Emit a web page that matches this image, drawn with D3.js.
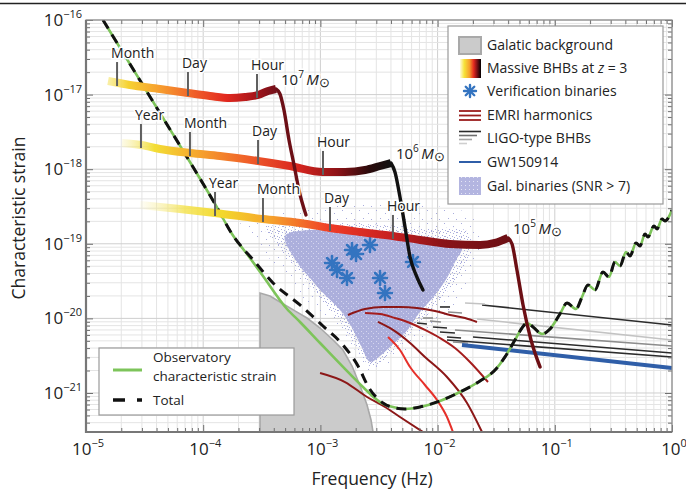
<!DOCTYPE html>
<html>
<head>
<meta charset="utf-8">
<script src="https://cdn.jsdelivr.net/npm/d3@7"></script>
<style>
  body { margin: 0; background: #fff; }
  svg { display: block; font-family: "Open Sans", sans-serif; }
</style>
</head>
<body>
<div id="chart"></div>
<script>
// all values are log10(frequency / Hz) and log10(characteristic strain)

// observatory characteristic strain
var noiseLogF = [-4.855,-4.625,-4.369,-4.113,-3.899,-3.754,-3.601,-3.490,-3.285,-3.174,-3.003,-2.807,-2.637,-2.491,-2.381,-2.278,-2.150,-1.980,-1.809,-1.638,-1.510,-1.425,-1.340,-1.280,-1.237,-1.186,-1.109,-1.041,-0.956,-0.896,-0.819,-0.768,-0.717,-0.657,-0.589,-0.538,-0.486,-0.444,-0.392,-0.358,-0.307,-0.273,-0.230,-0.205,-0.154,-0.128,-0.085,-0.060,0];
var noiseLogH = [-16.000,-16.590,-17.247,-17.903,-18.466,-18.869,-19.190,-19.432,-19.874,-20.048,-20.330,-20.651,-20.920,-21.121,-21.188,-21.214,-21.188,-21.107,-20.987,-20.839,-20.692,-20.517,-20.290,-20.129,-20.062,-20.115,-20.209,-20.142,-19.941,-19.794,-19.874,-19.713,-19.552,-19.619,-19.378,-19.445,-19.244,-19.298,-19.110,-19.164,-18.989,-19.029,-18.869,-18.909,-18.761,-18.801,-18.668,-18.694,-18.547];

// where the total (with galactic confusion) sits above the instrument curve
var totalBumpLogF = [-3.558,-3.404,-3.174,-2.978,-2.807,-2.679,-2.585,-2.466,-2.364];
var totalBumpLogH = [-19.244,-19.525,-19.820,-20.102,-20.357,-20.638,-20.933,-21.134,-21.201];

// galactic background
var galBgLogF = [-3.515,-3.430,-3.345,-3.217,-3.114,-3.003,-2.892,-2.807,-2.730,-2.654,-2.602,-2.568,-2.551];
var galBgLogH = [-19.660,-19.700,-19.780,-19.900,-19.995,-20.129,-20.290,-20.424,-20.638,-20.933,-21.161,-21.362,-21.523];

// resolved galactic binaries (SNR > 7): outlines of the dense core, the mid band and the sparse halo
var cloudCoreLogF = [-3.302,-3.200,-3.089,-2.986,-2.833,-2.730,-2.645,-2.577,-2.491,-2.389,-2.278,-2.150,-2.022,-1.920,-1.843,-1.792,-1.980,-2.235,-2.491,-2.833,-3.089];
var cloudCoreLogH = [-18.895,-19.244,-19.458,-19.646,-19.887,-20.129,-20.397,-20.584,-20.504,-20.357,-20.196,-19.914,-19.686,-19.458,-19.217,-19.056,-18.989,-18.922,-18.869,-18.828,-18.815];
var cloudMidLogF = [-3.473,-3.174,-2.662,-2.150,-1.741,-1.724,-1.809,-1.980,-2.193,-2.389,-2.560,-2.679,-2.833,-3.020,-3.217,-3.387];
var cloudMidLogH = [-18.788,-18.761,-18.735,-18.788,-18.842,-19.150,-19.418,-19.753,-20.129,-20.450,-20.651,-20.424,-20.048,-19.700,-19.298,-18.976];
var cloudHaloLogF = [-3.686,-3.259,-2.747,-2.150,-1.724,-1.638,-1.707,-1.852,-2.108,-2.364,-2.560,-2.705,-2.875,-3.131,-3.387,-3.601];
var cloudHaloLogH = [-18.681,-18.574,-18.480,-18.480,-18.614,-18.949,-19.418,-19.820,-20.223,-20.558,-20.718,-20.424,-20.088,-19.753,-19.284,-18.882];

// massive BHB tracks at z = 3 (inspiral part, then merger/ringdown drop)
var bhbMasses = [5, 6, 7];
var bhb7LogF = [-4.812,-4.625,-4.369,-4.130,-3.942,-3.771,-3.643,-3.532,-3.447,-3.379];
var bhb7LogH = [-16.818,-16.871,-16.925,-16.979,-17.019,-17.046,-17.032,-17.005,-16.952,-16.925];
var bhb7DropLogF = [-3.379,-3.345,-3.311,-3.268,-3.225,-3.183,-3.123];
var bhb7DropLogH = [-16.925,-16.992,-17.206,-17.609,-17.944,-18.279,-18.614];
var bhb6LogF = [-4.693,-4.531,-4.369,-4.113,-3.857,-3.532,-3.259,-2.978,-2.790,-2.619,-2.491,-2.398];
var bhb6LogH = [-17.649,-17.676,-17.729,-17.783,-17.823,-17.890,-17.957,-18.037,-18.037,-18.011,-17.957,-17.917];
var bhb6DropLogF = [-2.398,-2.364,-2.321,-2.278,-2.235,-2.184,-2.125];
var bhb6DropLogH = [-17.917,-18.037,-18.373,-18.775,-19.177,-19.418,-19.619];
var bhb5LogF = [-4.539,-4.198,-3.899,-3.490,-3.174,-2.918,-2.662,-2.381,-2.150,-1.894,-1.638,-1.510,-1.442,-1.399];
var bhb5LogH = [-18.480,-18.534,-18.587,-18.668,-18.721,-18.788,-18.842,-18.895,-18.949,-19.003,-19.016,-18.989,-18.949,-18.922];
var bhb5DropLogF = [-1.399,-1.365,-1.323,-1.271,-1.203,-1.126];
var bhb5DropLogH = [-18.922,-19.003,-19.351,-19.820,-20.290,-20.651];

// time-to-merger marks on the tracks
var tick7Labels = ["Month","Day","Hour"];
var tick7LogF = [-4.735,-4.130,-3.541];
var tick7LogH = [-16.845,-16.979,-17.005];
var tick6Labels = ["Year","Month","Day","Hour"];
var tick6LogF = [-4.531,-4.113,-3.532,-2.978];
var tick6LogH = [-17.676,-17.783,-17.890,-18.037];
var tick5Labels = ["Year","Month","Day","Hour"];
var tick5LogF = [-3.899,-3.490,-2.918,-2.381];
var tick5LogH = [-18.587,-18.668,-18.788,-18.895];

// verification binaries
var verifLogF = [-2.730,-2.696,-2.577,-2.901,-2.858,-2.773,-2.491,-2.449,-2.210];
var verifLogH = [-19.083,-19.137,-19.016,-19.257,-19.351,-19.458,-19.458,-19.660,-19.244];

// EMRI harmonics
var emriLogF = [
  [-2.765,-2.619,-2.466,-2.321,-2.176,-2.022,-1.894,-1.766,-1.664],
  [-2.619,-2.491,-2.364,-2.235,-2.108,-1.980,-1.852,-1.724,-1.570],
  [-2.509,-2.381,-2.235,-2.108,-1.920,-1.749,-1.621],
  [-2.423,-2.321,-2.235,-2.108,-2.005,-1.920,-1.869],
  [-3.003,-2.790,-2.602,-2.449,-2.321,-2.125]
];
var emriLogH = [
  [-19.954,-19.874,-19.847,-19.847,-19.860,-19.901,-19.954,-19.995,-20.048],
  [-19.928,-19.941,-19.995,-20.062,-20.155,-20.263,-20.397,-20.584,-20.853],
  [-20.048,-20.155,-20.330,-20.517,-20.786,-21.134,-21.523],
  [-20.249,-20.424,-20.651,-20.893,-21.094,-21.322,-21.523],
  [-20.732,-20.853,-21.054,-21.188,-21.322,-21.523]
];
var emriTone = ["dark","mid","dark","bright","dark"];

// LIGO-type BHBs: start and end of each line
var ligoF0 = [-1.621,-1.664,-1.852,-1.698,-1.920,-1.980,-2.176,-2.065,-2.039,-1.980,-1.920,-1.869,-2.125,-1.766,-1.911];
var ligoF1 = [0,0,0,0,0,-1.894,-2.091,-1.971,-1.920,-1.852,-1.800,-1.741,-2.039,-1.596,-1.792];
var ligoH0 = [-19.820,-20.008,-20.155,-20.249,-20.290,-19.847,-20.062,-20.035,-20.115,-20.182,-20.249,-20.316,-19.995,-19.794,-19.914];
var ligoH1 = [-20.088,-20.290,-20.370,-20.464,-20.517,-19.847,-20.075,-20.048,-20.129,-20.196,-20.263,-20.330,-19.995,-19.807,-19.928];
var ligoTone = ["dark","light","mid","dark","dark","dark","dark","mid","dark","dark","dark","mid","mid","light","mid"];

// GW150914
var gwLogF = [-1.792, 0];
var gwLogH = [-20.357, -20.665];

var xDecades = [-5,-4,-3,-2,-1,0];
var yDecades = [-21,-20,-19,-18,-17,-16];

// ---------------------------------------------------------------
var W = 686, H = 490;
var plot = {left: 86, right: 672, top: 20, bottom: 432};
var yMinLog = -21.523;

var svg = d3.select("#chart").append("svg").attr("width", W).attr("height", H);

var x = d3.scaleLog().domain([1e-5, 1]).range([plot.left, plot.right]);
var y = d3.scaleLog().domain([Math.pow(10, yMinLog), 1e-16]).range([plot.bottom, plot.top]);
var px = function(lf) { return x(Math.pow(10, lf)); };
var py = function(lh) { return y(Math.pow(10, lh)); };
var zip = function(fs, hs) { return fs.map(function(f, i) { return [f, hs[i]]; }); };

var line = d3.line().x(d => px(d[0])).y(d => py(d[1])).curve(d3.curveMonotoneX);
var closedLine = d3.line().x(d => px(d[0])).y(d => py(d[1])).curve(d3.curveCatmullRomClosed);

var defs = svg.append("defs");
defs.append("clipPath").attr("id", "plotClip").append("rect")
  .attr("x", plot.left).attr("y", plot.top)
  .attr("width", plot.right - plot.left).attr("height", plot.bottom - plot.top);

// dot patterns for the binaries cloud
function dotPattern(id, w, h, dots, color, bg) {
  var p = defs.append("pattern").attr("id", id).attr("patternUnits", "userSpaceOnUse")
    .attr("width", w).attr("height", h);
  if (bg) p.append("rect").attr("width", w).attr("height", h).attr("fill", bg);
  dots.forEach(function(d) {
    p.append("rect").attr("x", d[0]).attr("y", d[1]).attr("width", 1).attr("height", 1).attr("fill", color);
  });
}
dotPattern("haloDots", 17, 13, [[2,2],[11,5],[6,10],[14,11]], "#a9acdc");
dotPattern("midDots", 7, 6, [[1,1],[4,2],[2,4],[5,5],[6,3]], "#aaaddc");
dotPattern("coreDots", 5, 5, [[1,1],[3,3]], "#d4d5ee", "#acafdc");
dotPattern("legDots", 4, 4, [[1,1]], "#e4e5f5", "#b3b5e0");

// ---- grid
var gx = [], gy = [];
xDecades.forEach(function(d) { for (var k = 1; k < 10; k++) { if (d < 0 || k == 1) gx.push([k * Math.pow(10, d), k == 1]); } });
[-22].concat(yDecades).forEach(function(d) { for (var k = 1; k < 10; k++) {
  var v = k * Math.pow(10, d);
  if (Math.log10(v) > yMinLog + 0.01 && (d < -16 || k == 1)) gy.push([v, k == 1]);
} });

var grid = svg.append("g");
grid.selectAll(".gx").data(gx).enter().append("line")
  .attr("x1", d => x(d[0])).attr("x2", d => x(d[0]))
  .attr("y1", plot.top).attr("y2", plot.bottom)
  .attr("stroke", d => d[1] ? "#cfcfcf" : "#e4e4e4").attr("stroke-width", 1);
grid.selectAll(".gy").data(gy).enter().append("line")
  .attr("y1", d => y(d[0])).attr("y2", d => y(d[0]))
  .attr("x1", plot.left).attr("x2", plot.right)
  .attr("stroke", d => d[1] ? "#cfcfcf" : "#e4e4e4").attr("stroke-width", 1);

var g = svg.append("g").attr("clip-path", "url(#plotClip)");

// ---- galactic background
var galPts = [[galBgLogF[0], yMinLog]].concat(zip(galBgLogF, galBgLogH));
g.append("path")
  .attr("d", d3.area().x(d => px(d[0])).y0(plot.bottom).y1(d => py(d[1]))(zip(galBgLogF, galBgLogH)))
  .attr("fill", "#cbcbcb");
g.append("path").attr("d", d3.line().x(d => px(d[0])).y(d => py(d[1]))(galPts))
  .attr("fill", "none").attr("stroke", "#a9a9a9").attr("stroke-width", 1.6);

// ---- galactic binaries cloud
g.append("path").attr("d", closedLine(zip(cloudHaloLogF, cloudHaloLogH))).attr("fill", "url(#haloDots)");
g.append("path").attr("d", closedLine(zip(cloudMidLogF, cloudMidLogH))).attr("fill", "url(#midDots)");
g.append("path").attr("d", closedLine(zip(cloudCoreLogF, cloudCoreLogH))).attr("fill", "url(#coreDots)");

// ---- EMRI harmonics
var emriColor = {dark: "#8c1717", mid: "#a51d1d", bright: "#e6302a"};
emriLogF.forEach(function(fs, i) {
  g.append("path").attr("d", line(zip(fs, emriLogH[i])))
    .attr("fill", "none").attr("stroke", emriColor[emriTone[i]]).attr("stroke-width", 2);
});

// ---- LIGO-type BHBs
var ligoColor = {dark: "#2b2b2b", mid: "#8d8d8d", light: "#c3c3c3"};
g.selectAll(".ligo").data(ligoF0).enter().append("line")
  .attr("x1", (d, i) => px(ligoF0[i])).attr("x2", (d, i) => px(ligoF1[i]))
  .attr("y1", (d, i) => py(ligoH0[i])).attr("y2", (d, i) => py(ligoH1[i]))
  .attr("stroke", (d, i) => ligoColor[ligoTone[i]]).attr("stroke-width", 1.6);

g.append("path").attr("d", d3.line().x(d => px(d[0])).y(d => py(d[1]))(zip(gwLogF, gwLogH)))
  .attr("stroke", "#2f5ea8").attr("stroke-width", 4).attr("fill", "none");

// ---- sensitivity and total
var noisePts = zip(noiseLogF, noiseLogH);
var totalPts = noisePts.slice(0, 6).concat(zip(totalBumpLogF, totalBumpLogH), noisePts.slice(15));
g.append("path").attr("d", line(noisePts))
  .attr("fill", "none").attr("stroke", "#7dc45a").attr("stroke-width", 2.6);
g.append("path").attr("d", line(totalPts))
  .attr("fill", "none").attr("stroke", "#111").attr("stroke-width", 3)
  .attr("stroke-dasharray", "10,7");

// ---- verification binaries
function asterisk(sel, cx, cy, r, w) {
  for (var k = 0; k < 4; k++) {
    var a = k * Math.PI / 4;
    sel.append("line")
      .attr("x1", cx - r * Math.cos(a)).attr("y1", cy - r * Math.sin(a))
      .attr("x2", cx + r * Math.cos(a)).attr("y2", cy + r * Math.sin(a))
      .attr("stroke", "#3474c0").attr("stroke-width", w).attr("stroke-linecap", "round");
  }
}
var stars = g.append("g");
verifLogF.forEach(function(f, i) { asterisk(stars, px(f), py(verifLogH[i]), 7, 2.6); });

// ---- massive BHB tracks
var trackStyle = {
  5: {stops: [[0,"#f6ec9a",0.1],[0.12,"#f4e24a",0.8],[0.22,"#f3d92b",1],[0.35,"#f6a52c",1],[0.52,"#ef3b26",1],[0.68,"#c71f21",1],[0.82,"#8a1318",1],[1,"#6c0f14",1]], drop: "#6c0f14"},
  6: {stops: [[0,"#f6ec9a",0.25],[0.12,"#f3de35",1],[0.28,"#f6a62d",1],[0.48,"#ef5a29",1],[0.65,"#d9261f",1],[0.8,"#8e1318",1],[0.92,"#2a0a0b",1],[1,"#111",1]], drop: "#111"},
  7: {stops: [[0,"#f5e46a",0.6],[0.12,"#f6d231",1],[0.3,"#f7a02e",1],[0.5,"#f0632a",1],[0.7,"#e3291f",1],[0.87,"#a9161b",1],[1,"#73101a",1]], drop: "#6c0f16"}
};
var trackData = {
  5: {f: bhb5LogF, h: bhb5LogH, df: bhb5DropLogF, dh: bhb5DropLogH, tl: tick5Labels, tf: tick5LogF, th: tick5LogH},
  6: {f: bhb6LogF, h: bhb6LogH, df: bhb6DropLogF, dh: bhb6DropLogH, tl: tick6Labels, tf: tick6LogF, th: tick6LogH},
  7: {f: bhb7LogF, h: bhb7LogH, df: bhb7DropLogF, dh: bhb7DropLogH, tl: tick7Labels, tf: tick7LogF, th: tick7LogH}
};

var tracks = svg.append("g");
var labels = svg.append("g");
bhbMasses.forEach(function(m) {
  var t = trackData[m], st = trackStyle[m];
  var grad = defs.append("linearGradient").attr("id", "trk" + m)
    .attr("gradientUnits", "userSpaceOnUse")
    .attr("x1", px(t.f[0])).attr("x2", px(t.f[t.f.length - 1])).attr("y1", 0).attr("y2", 0);
  st.stops.forEach(function(s) {
    grad.append("stop").attr("offset", s[0]).attr("stop-color", s[1]).attr("stop-opacity", s[2]);
  });
  tracks.append("path").attr("d", line(zip(t.df, t.dh)))
    .attr("fill", "none").attr("stroke", st.drop).attr("stroke-width", 3.4)
    .attr("stroke-linecap", "round");
  tracks.append("path").attr("d", line(zip(t.f, t.h)))
    .attr("fill", "none").attr("stroke", "url(#trk" + m + ")").attr("stroke-width", 8)
    .attr("stroke-linecap", "butt").attr("stroke-linejoin", "round");

  t.tf.forEach(function(f, i) {
    var cx = px(f), cy = py(t.th[i]);
    tracks.append("line").attr("x1", cx).attr("x2", cx).attr("y1", cy + 3).attr("y2", cy - 21)
      .attr("stroke", "#5f5f5f").attr("stroke-width", 2);
    labels.append("text").attr("x", cx - 6).attr("y", cy - 25)
      .attr("font-size", 14).attr("fill", "#222")
      .attr("stroke", "#fff").attr("stroke-width", 3).attr("paint-order", "stroke")
      .text(t.tl[i]);
  });

  var pk = t.f.length - 1;
  var lab = labels.append("text").attr("x", px(t.f[pk]) + 5).attr("y", py(t.h[pk]) - 4)
    .attr("font-size", 15).attr("fill", "#222")
    .attr("stroke", "#fff").attr("stroke-width", 3).attr("paint-order", "stroke");
  lab.append("tspan").text("10");
  lab.append("tspan").attr("dy", -7).attr("font-size", 10).text(m);
  lab.append("tspan").attr("dy", 7).text("\u2009");
  lab.append("tspan").attr("font-style", "italic").text("M");
  lab.append("tspan").attr("font-size", 13).attr("dy", 2).text("\u2299");
});

// ---- axes: inward ticks on all four sides
var majX = xDecades.map(d => Math.pow(10, d));
var minX = gx.filter(d => !d[1]).map(d => d[0]);
var majY = yDecades.map(d => Math.pow(10, d));
var minY = gy.filter(d => !d[1]).map(d => d[0]);
var axes = svg.append("g").attr("color", "#6f6f6f");
function addAxis(gen, vals, size, tr) {
  axes.append("g").attr("transform", tr)
    .call(gen.tickValues(vals).tickSize(size).tickSizeOuter(0).tickFormat(() => ""))
    .call(s => s.select(".domain").remove());
}
addAxis(d3.axisBottom(x), majX, -7, "translate(0," + plot.bottom + ")");
addAxis(d3.axisBottom(x), minX, -4, "translate(0," + plot.bottom + ")");
addAxis(d3.axisTop(x), majX, -7, "translate(0," + plot.top + ")");
addAxis(d3.axisTop(x), minX, -4, "translate(0," + plot.top + ")");
addAxis(d3.axisLeft(y), majY, -7, "translate(" + plot.left + ",0)");
addAxis(d3.axisLeft(y), minY, -4, "translate(" + plot.left + ",0)");
addAxis(d3.axisRight(y), majY, -7, "translate(" + plot.right + ",0)");
addAxis(d3.axisRight(y), minY, -4, "translate(" + plot.right + ",0)");

svg.append("rect").attr("x", plot.left).attr("y", plot.top)
  .attr("width", plot.right - plot.left).attr("height", plot.bottom - plot.top)
  .attr("fill", "none").attr("stroke", "#8a8a8a").attr("stroke-width", 1.2);
svg.append("path").attr("d", "M" + plot.left + "," + plot.top + "V" + plot.bottom + "H" + plot.right)
  .attr("fill", "none").attr("stroke", "#777").attr("stroke-width", 2.2);

// tick labels
function power(sel, d) {
  sel.append("tspan").text("10");
  sel.append("tspan").attr("dy", -8).attr("font-size", 11).text(d < 0 ? "\u2212" + (-d) : d);
}
xDecades.forEach(function(d) {
  svg.append("text").attr("x", x(Math.pow(10, d)) + 2).attr("y", 455)
    .attr("text-anchor", "middle").attr("font-size", 17).attr("fill", "#222")
    .call(power, d);
});
yDecades.forEach(function(d) {
  svg.append("text").attr("x", 82).attr("y", y(Math.pow(10, d)) + 6)
    .attr("text-anchor", "end").attr("font-size", 17).attr("fill", "#222")
    .call(power, d);
});

svg.append("text").attr("x", 372).attr("y", 485).attr("text-anchor", "middle")
  .attr("font-size", 17.5).attr("fill", "#222").text("Frequency (Hz)");
svg.append("text").attr("transform", "translate(25,218) rotate(-90)").attr("text-anchor", "middle")
  .attr("font-size", 17.5).attr("fill", "#222").text("Characteristic strain");

// top rule of the figure
svg.append("line").attr("x1", 0).attr("x2", W).attr("y1", 3.5).attr("y2", 3.5)
  .attr("stroke", "#222").attr("stroke-width", 1.3);

// ---- legend (top right)
var leg = svg.append("g");
leg.append("rect").attr("x", 448).attr("y", 26).attr("width", 215).attr("height", 178)
  .attr("fill", "#fff").attr("stroke", "#9a9a9a").attr("stroke-width", 1.2);
var legNames = ["Galatic background", "Massive BHBs at ", "Verification binaries", "EMRI harmonics",
                "LIGO-type BHBs", "GW150914", "Gal. binaries (SNR > 7)"];
var legY = [45, 68, 91, 115, 138, 162, 186];
legNames.forEach(function(n, i) {
  var t = leg.append("text").attr("x", 487).attr("y", legY[i] + 5)
    .attr("font-size", 14).attr("fill", "#222").text(n);
  if (i == 1) {
    t.append("tspan").attr("font-style", "italic").text("z");
    t.append("tspan").text(" = 3");
  }
});
leg.append("rect").attr("x", 459).attr("y", 37).attr("width", 22).attr("height", 17)
  .attr("fill", "#cbcbcb").attr("stroke", "#a9a9a9").attr("stroke-width", 2);
var lg = defs.append("linearGradient").attr("id", "legGrad");
[[0,"#fffbe0"],[0.2,"#f6e43a"],[0.45,"#f6a02c"],[0.65,"#e52a20"],[0.82,"#7a0f15"],[1,"#000"]].forEach(function(s) {
  lg.append("stop").attr("offset", s[0]).attr("stop-color", s[1]);
});
leg.append("rect").attr("x", 460).attr("y", 59).attr("width", 21).attr("height", 19).attr("fill", "url(#legGrad)");
asterisk(leg, 470, 91, 6, 2.4);
[111, 115.5, 120].forEach(function(v) {
  leg.append("line").attr("x1", 459).attr("x2", 481).attr("y1", v).attr("y2", v)
    .attr("stroke", "#9a1c1c").attr("stroke-width", 1.8);
});
[[481, "#2b2b2b", 131.5], [477, "#6e6e6e", 135.5], [472, "#a5a5a5", 139.5], [467, "#cfcfcf", 143.5]].forEach(function(s) {
  leg.append("line").attr("x1", 459).attr("x2", s[0]).attr("y1", s[2]).attr("y2", s[2])
    .attr("stroke", s[1]).attr("stroke-width", 1.6);
});
leg.append("line").attr("x1", 459).attr("x2", 481).attr("y1", 162).attr("y2", 162)
  .attr("stroke", "#2f5ea8").attr("stroke-width", 2);
leg.append("rect").attr("x", 459).attr("y", 177).attr("width", 22).attr("height", 18).attr("fill", "url(#legDots)");

// ---- legend (bottom left)
var leg2 = svg.append("g");
leg2.append("rect").attr("x", 99).attr("y", 348).attr("width", 195).attr("height", 67)
  .attr("fill", "#fff").attr("stroke", "#9a9a9a").attr("stroke-width", 1.2);
leg2.append("line").attr("x1", 113).attr("x2", 142).attr("y1", 370).attr("y2", 370)
  .attr("stroke", "#7dc45a").attr("stroke-width", 3);
leg2.append("line").attr("x1", 113).attr("x2", 142).attr("y1", 400).attr("y2", 400)
  .attr("stroke", "#111").attr("stroke-width", 3.5).attr("stroke-dasharray", "12,12");
[["Observatory", 362], ["characteristic strain", 381], ["Total", 405]].forEach(function(s) {
  leg2.append("text").attr("x", 153).attr("y", s[1]).attr("font-size", 13.5).attr("fill", "#222").text(s[0]);
});
</script>
</body>
</html>
